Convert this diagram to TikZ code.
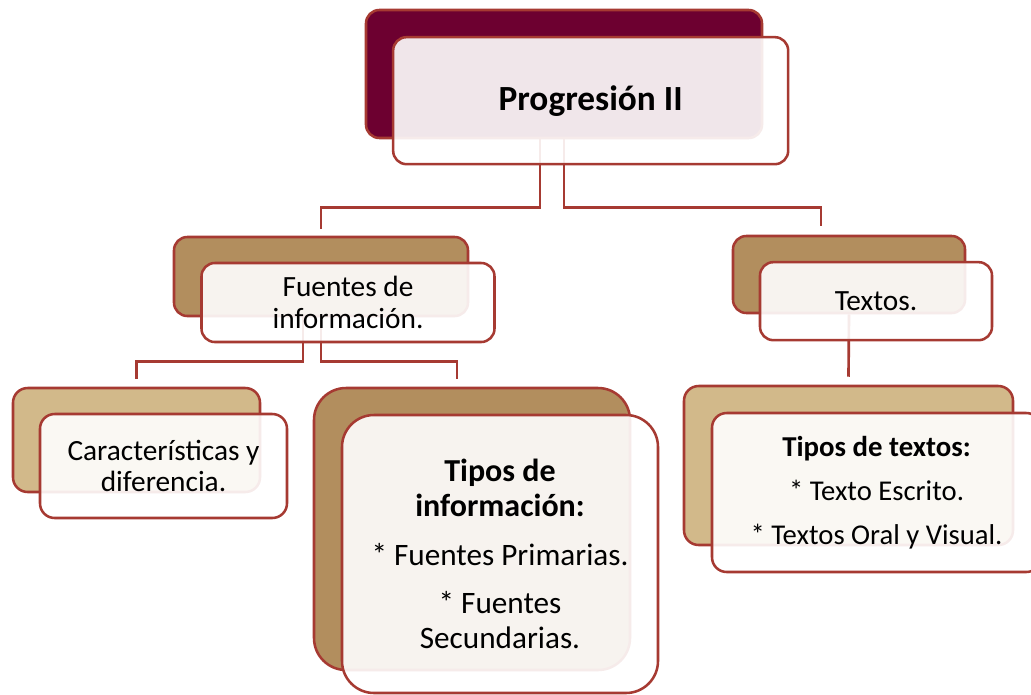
\documentclass[tikz,border=0pt]{standalone}
\usepackage{fontspec}
\setmainfont{Carlito}
\usetikzlibrary{positioning}

\definecolor{edge}{RGB}{166,58,50}
\definecolor{wine}{RGB}{109,0,48}
\definecolor{bronze}{RGB}{178,142,94}
\definecolor{sand}{RGB}{210,185,138}

\begin{document}
\begin{tikzpicture}[x=0.75pt, y=-0.75pt]
	\tikzstyle{back}=[rectangle, rounded corners=10pt, draw=edge, line width=1.9pt, inner sep=0pt]
	\tikzstyle{front}=[rectangle, rounded corners=10pt, draw=edge, line width=1.9pt, fill=white, fill opacity=0.9, text opacity=1, align=center, inner sep=0pt, font=\fontsize{22}{23.5}\selectfont]
	\tikzstyle{connect}=[draw=edge, line width=2pt]
	\useasboundingbox (0,0) rectangle (1031,694);
	% back boxes
	\node[back, fill=wine, minimum width=297pt, minimum height=96pt] (topB) at (564,74) {};
	\node[back, fill=bronze, minimum width=220.5pt, minimum height=59.25pt] (fuentesB) at (321,276.5) {};
	\node[back, fill=bronze, minimum width=174pt, minimum height=57.75pt] (textosB) at (849,274.5) {};
	\node[back, fill=sand, rounded corners=11pt, minimum width=185.25pt, minimum height=78pt] (caractB) at (136.5,440) {};
	\node[back, fill=bronze, rounded corners=24pt, minimum width=237pt, minimum height=211.5pt] (infoB) at (472,529) {};
	\node[back, fill=sand, rounded corners=11pt, minimum width=246.75pt, minimum height=119.25pt] (tiposB) at (848.5,465.5) {};
	% connectors
	\draw[connect] ([xshift=-18pt]topB.south) -- ++(0,68) -| ([yshift=5.25pt]fuentesB.north);
	\draw[connect] (topB.south) -- ++(0,68) -| ([xshift=-21pt,yshift=6.5pt]textosB.north);
	\draw[connect] ([xshift=-13.5pt]fuentesB.south) -- ++(0,44) -| ([yshift=6pt]caractB.north);
	\draw[connect] (fuentesB.south) -- ++(0,44) -| ([xshift=-11.25pt,yshift=6pt]infoB.north);
	\draw[connect] (textosB.south) -- ([yshift=6pt]tiposB.north);
	% front boxes
	\node[front, minimum width=296.25pt, minimum height=95.25pt, font=\fontsize{26.5}{30}\selectfont\bfseries] (top) at ([xshift=20pt,yshift=-20pt]topB.center) {Progresión II};
	\node[front, minimum width=219.75pt, minimum height=59.25pt] (fuentes) at ([xshift=20.25pt,yshift=-19.5pt]fuentesB.center) {Fuentes de\\información.};
	\node[front, minimum width=174pt, minimum height=58.5pt] (textos) at ([xshift=20.25pt,yshift=-20pt]textosB.center) {Textos.};
	\node[front, rounded corners=11pt, minimum width=185.25pt, minimum height=78pt] (caract) at ([xshift=20.25pt,yshift=-19.5pt]caractB.center) {Características y\\diferencia.};
	\node[front, rounded corners=24pt, minimum width=237pt, minimum height=208.5pt, font=\fontsize{23.4}{26.25}\selectfont] (info) at ([xshift=21pt,yshift=-18.75pt]infoB.center) {\fontsize{24}{26.25}\selectfont\bfseries Tipos de\\\fontsize{24}{26.25}\selectfont\bfseries información:\\[10pt]* Fuentes Primarias.\\[10pt]* Fuentes\\Secundarias.};
	\node[front, rounded corners=11pt, minimum width=246.75pt, minimum height=119.25pt, font=\fontsize{21.5}{24}\selectfont] (tipos) at ([xshift=21pt,yshift=-20.25pt]tiposB.center) {\fontsize{21.6}{24}\selectfont\bfseries Tipos de textos:\\[9pt]* Texto Escrito.\\[9pt]* Textos Oral y Visual.};
\end{tikzpicture}
\end{document}
